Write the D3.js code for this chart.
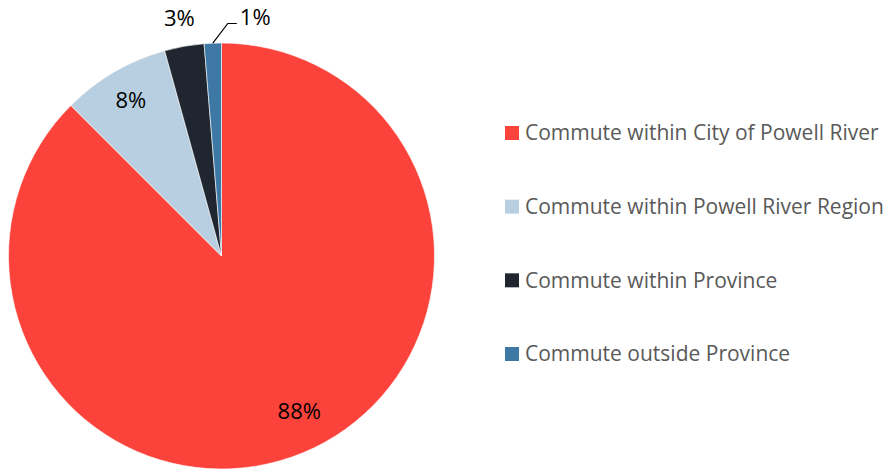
<!DOCTYPE html>
<html>
<head>
<meta charset="utf-8">
<script src="https://cdn.jsdelivr.net/npm/d3@7"></script>
<style>
  html, body { margin: 0; padding: 0; background: #ffffff; }
  svg { display: block; font-family: "Open Sans", sans-serif; }
</style>
</head>
<body>
<svg id="chart" width="888" height="475"></svg>
<script>
// Commuting destinations, share of workers (%)
const categories = [
  "Commute within City of Powell River",
  "Commute within Powell River Region",
  "Commute within Province",
  "Commute outside Province"
];
const shares = [87.5, 8.2, 3.0, 1.3];
const shareLabels = ["88%", "8%", "3%", "1%"];
const colors = ["#FB433B", "#B8CFE1", "#1F262F", "#3E79A6"];

const svg = d3.select("#chart");
const cx = 221.5, cy = 256, R = 213;

const data = categories.map((c, i) => ({ name: c, value: shares[i], label: shareLabels[i], color: colors[i] }));

const pie = d3.pie().value(d => d.value).sort(null);
const arcs = pie(data);
const arc = d3.arc().innerRadius(0).outerRadius(R);

const g = svg.append("g").attr("transform", `translate(${cx},${cy})`);

g.selectAll("path.slice")
  .data(arcs)
  .enter().append("path")
  .attr("class", "slice")
  .attr("d", arc)
  .attr("fill", d => d.data.color)
  .attr("stroke", "#ffffff")
  .attr("stroke-width", 0.6);

// label placement: radius along the slice midpoint, plus a nudge in px
const labelLayout = [
  { r: 177, dx: 10, dy: -8 },
  { r: 180, dx: 0, dy: 0 },
  { r: 241, dx: 0, dy: 0 },
  { r: 241, dx: 0, dy: 0, leader: true }
];

const mid = d => (d.startAngle + d.endAngle) / 2;
const polar = (a, r) => [r * Math.sin(a), -r * Math.cos(a)];

arcs.forEach((d, i) => {
  const L = labelLayout[i];
  const a = mid(d);
  if (L.leader) {
    const p0 = polar(a, R);
    const p1 = [p0[0] + 15, -R - 19.5];
    const p2 = [p1[0] + 9, p1[1]];
    g.append("polyline")
      .attr("points", [p0, p1, p2].map(p => p.join(",")).join(" "))
      .attr("fill", "none")
      .attr("stroke", "#000000")
      .attr("stroke-width", 1.2);
    g.append("text")
      .attr("x", p2[0] + 3)
      .attr("y", p2[1] - 6)
      .attr("dy", "0.35em")
      .attr("text-anchor", "start")
      .attr("font-size", 22)
      .attr("fill", "#000000")
      .text(d.data.label);
  } else {
    const p = polar(a, L.r);
    g.append("text")
      .attr("x", p[0] + L.dx)
      .attr("y", p[1] + L.dy)
      .attr("dy", "0.35em")
      .attr("text-anchor", "middle")
      .attr("font-size", 22)
      .attr("fill", "#000000")
      .text(d.data.label);
  }
});

// legend
const legendY = d3.scalePoint().domain(categories).range([133, 354]);
const legend = svg.append("g");
const items = legend.selectAll("g.item")
  .data(data)
  .enter().append("g")
  .attr("class", "item")
  .attr("transform", d => `translate(505,${legendY(d.name)})`);

items.append("rect")
  .attr("x", 0).attr("y", -7)
  .attr("width", 14).attr("height", 14)
  .attr("fill", d => d.color);

items.append("text")
  .attr("x", 20)
  .attr("y", 0)
  .attr("dy", "0.35em")
  .attr("font-size", 21)
  .attr("fill", "#595959")
  .text(d => d.name);
</script>
</body>
</html>
